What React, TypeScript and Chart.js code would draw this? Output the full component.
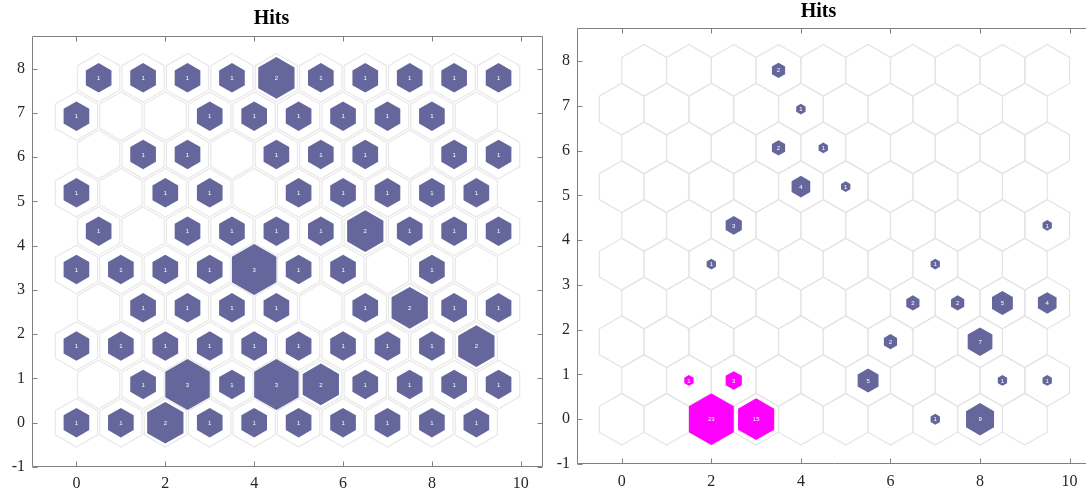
import React, { useEffect, useRef } from 'react';
import { Chart, registerables } from 'chart.js';

Chart.register(...registerables);

// ---- data ----
const xTickValues = [0, 2, 4, 6, 8, 10];
const yTickValues = [-1, 0, 1, 2, 3, 4, 5, 6, 7, 8];
const panelTitles = ['Hits', 'Hits'];

// hits per neuron, row 0 = bottom row; odd rows are shifted right by half a cell
const leftHits = [
  [1, 1, 2, 1, 1, 1, 1, 1, 1, 1],
  [0, 1, 3, 1, 3, 2, 1, 1, 1, 1],
  [1, 1, 1, 1, 1, 1, 1, 1, 1, 2],
  [0, 1, 1, 1, 1, 0, 1, 2, 1, 1],
  [1, 1, 1, 1, 3, 1, 1, 0, 1, 0],
  [1, 0, 1, 1, 1, 1, 2, 1, 1, 1],
  [1, 0, 1, 1, 0, 1, 1, 1, 1, 1],
  [0, 1, 1, 0, 1, 1, 1, 0, 1, 1],
  [1, 0, 0, 1, 1, 1, 1, 1, 1, 0],
  [1, 1, 1, 1, 2, 1, 1, 1, 1, 1],
];

const rightHits = [
  [0, 0, 23, 15, 0, 0, 0, 1, 9, 0],
  [0, 1, 3, 0, 0, 5, 0, 0, 1, 1],
  [0, 0, 0, 0, 0, 0, 2, 0, 7, 0],
  [0, 0, 0, 0, 0, 0, 2, 2, 5, 4],
  [0, 0, 1, 0, 0, 0, 0, 1, 0, 0],
  [0, 0, 3, 0, 0, 0, 0, 0, 0, 1],
  [0, 0, 0, 0, 4, 1, 0, 0, 0, 0],
  [0, 0, 0, 2, 1, 0, 0, 0, 0, 0],
  [0, 0, 0, 0, 1, 0, 0, 0, 0, 0],
  [0, 0, 0, 2, 0, 0, 0, 0, 0, 0],
];

// [row, col] of highlighted (magenta) neurons in the right map
const rightHighlightCells = [
  [0, 2],
  [0, 3],
  [1, 1],
  [1, 2],
];

const ROW_H = Math.sqrt(3) / 2;
const HEX_R = 1 / Math.sqrt(3);

function buildCells(hits: number[][], hl: number[][]) {
  const cells: any[] = [];
  hits.forEach((row, r) => {
    row.forEach((h, c) => {
      cells.push({
        x: c + (r % 2 ? 0.5 : 0),
        y: r * ROW_H,
        hits: h,
        hl: hl.some(([hr, hc]) => hr === r && hc === c),
      });
    });
  });
  return cells;
}

const hexPlugin = {
  id: 'hexCells',
  beforeDatasetsDraw(chart: any, _args: any, opts: any) {
    const meta = chart.getDatasetMeta(0);
    const data = chart.data.datasets[0].data as any[];
    const xs = chart.scales.x;
    const ys = chart.scales.y;
    const sx = Math.abs(xs.getPixelForValue(1) - xs.getPixelForValue(0));
    const sy = Math.abs(ys.getPixelForValue(1) - ys.getPixelForValue(0));
    const ctx = chart.ctx as CanvasRenderingContext2D;
    const area = chart.chartArea;
    const path = (cx: number, cy: number, r: number) => {
      ctx.beginPath();
      for (let k = 0; k < 6; k++) {
        const a = ((90 + 60 * k) * Math.PI) / 180;
        const px = cx + r * Math.cos(a) * sx;
        const py = cy - r * Math.sin(a) * sy;
        if (k === 0) ctx.moveTo(px, py);
        else ctx.lineTo(px, py);
      }
      ctx.closePath();
    };
    ctx.save();
    ctx.beginPath();
    ctx.rect(area.left, area.top, area.right - area.left, area.bottom - area.top);
    ctx.clip();
    ctx.strokeStyle = opts.outlineColor;
    ctx.lineWidth = opts.outlineWidth;
    meta.data.forEach((el: any) => {
      path(el.x, el.y, HEX_R * opts.outlineScale);
      ctx.stroke();
    });
    const maxHits = Math.max(...data.map((d) => d.hits));
    meta.data.forEach((el: any, i: number) => {
      const d = data[i];
      if (!d.hits) return;
      path(el.x, el.y, HEX_R * Math.sqrt(d.hits / maxHits));
      ctx.fillStyle = d.hl ? opts.highlightColor : opts.fillColor;
      ctx.fill();
    });
    ctx.fillStyle = '#ffffff';
    ctx.font = '6px "Liberation Sans", Arial, sans-serif';
    ctx.textAlign = 'center';
    ctx.textBaseline = 'middle';
    meta.data.forEach((el: any, i: number) => {
      const d = data[i];
      if (!d.hits) return;
      ctx.fillText(String(d.hits), el.x, el.y + 0.5);
    });
    ctx.restore();
  },
  afterDraw(chart: any, _args: any, opts: any) {
    const ctx = chart.ctx as CanvasRenderingContext2D;
    const { left, right, top, bottom } = chart.chartArea;
    const tl = opts.tickLength;
    ctx.save();
    ctx.strokeStyle = opts.axisColor;
    ctx.lineWidth = 1;
    const L = Math.round(left) + 0.5;
    const R = Math.round(right) - 0.5;
    const T = Math.round(top) + 0.5;
    const B = Math.round(bottom) - 0.5;
    ctx.beginPath();
    ctx.rect(L, T, R - L, B - T);
    ctx.stroke();
    ctx.beginPath();
    chart.scales.x.ticks.forEach((t: any) => {
      const px = Math.round(chart.scales.x.getPixelForValue(t.value)) + 0.5;
      ctx.moveTo(px, B);
      ctx.lineTo(px, B - tl);
      ctx.moveTo(px, T);
      ctx.lineTo(px, T + tl);
    });
    chart.scales.y.ticks.forEach((t: any) => {
      const py = Math.round(chart.scales.y.getPixelForValue(t.value)) + 0.5;
      ctx.moveTo(L, py);
      ctx.lineTo(L + tl, py);
      ctx.moveTo(R, py);
      ctx.lineTo(R - tl, py);
    });
    ctx.stroke();
    ctx.restore();
  },
};

type PanelProps = {
  hits: number[][];
  highlight: number[][];
  title: string;
  left: number;
  width: number;
  titlePadTop: number;
  titlePadBottom: number;
  xAxisHeight: number;
  xLabelPad: number;
  outlineScale: number;
  outlineColor: string;
};

function HexPanel(p: PanelProps) {
  const ref = useRef<HTMLCanvasElement>(null);
  useEffect(() => {
    if (!ref.current) return;
    const tickFont = { family: '"Liberation Serif", "Times New Roman", serif', size: 16 };
    const chart = new Chart(ref.current, {
      type: 'scatter',
      data: {
        datasets: [
          {
            data: buildCells(p.hits, p.highlight),
            pointRadius: 0,
            pointHoverRadius: 0,
            showLine: false,
          },
        ],
      },
      options: {
        animation: false,
        responsive: false,
        events: [],
        layout: { padding: { left: 0, right: 3, top: 0, bottom: 0 } },
        plugins: {
          legend: { display: false },
          tooltip: { enabled: false },
          title: {
            display: true,
            text: p.title,
            color: '#000000',
            font: { family: '"Liberation Serif", "Times New Roman", serif', size: 20, weight: 'bold' },
            padding: { top: p.titlePadTop, bottom: p.titlePadBottom },
          },
          hexCells: {
            outlineColor: p.outlineColor,
            outlineWidth: 1.2,
            outlineScale: p.outlineScale,
            fillColor: '#65669b',
            highlightColor: '#ff00ff',
            axisColor: '#808080',
            tickLength: 5,
          },
        } as any,
        scales: {
          x: {
            type: 'linear',
            min: -1,
            max: 10.5,
            grid: { display: false, drawTicks: false },
            border: { display: false },
            ticks: {
              font: tickFont,
              color: '#262626',
              padding: p.xLabelPad,
              maxRotation: 0,
              autoSkip: false,
            },
            afterBuildTicks: (s: any) => {
              s.ticks = xTickValues.map((v) => ({ value: v }));
            },
            afterFit: (s: any) => {
              s.height = p.xAxisHeight;
            },
          },
          y: {
            type: 'linear',
            min: -1,
            max: 8.74,
            grid: { display: false, drawTicks: false },
            border: { display: false },
            ticks: {
              font: tickFont,
              color: '#262626',
              padding: 7,
              autoSkip: false,
            },
            afterBuildTicks: (s: any) => {
              s.ticks = yTickValues.map((v) => ({ value: v }));
            },
            afterFit: (s: any) => {
              s.width = 32;
            },
          },
        },
      },
      plugins: [hexPlugin as any],
    });
    return () => chart.destroy();
  }, []);
  return (
    <div style={{ position: 'absolute', left: p.left, top: 0, width: p.width, height: 495 }}>
      <canvas ref={ref} width={p.width} height={495} style={{ display: 'block' }} />
    </div>
  );
}

export default function App() {
  return (
    <div
      style={{
        position: 'fixed',
        left: 0,
        top: 0,
        width: 1086,
        height: 495,
        overflow: 'hidden',
        background: '#ffffff',
      }}
    >
      <HexPanel
        hits={leftHits}
        highlight={[]}
        title={panelTitles[0]}
        left={0}
        width={546}
        titlePadTop={7}
        titlePadBottom={5}
        xAxisHeight={28}
        xLabelPad={7}
        outlineScale={0.95}
        outlineColor="#e8e8e8"
      />
      <HexPanel
        hits={rightHits}
        highlight={rightHighlightCells}
        title={panelTitles[1]}
        left={545}
        width={550}
        titlePadTop={0}
        titlePadBottom={4}
        xAxisHeight={31}
        xLabelPad={8}
        outlineScale={1}
        outlineColor="#e4e4e4"
      />
    </div>
  );
}
